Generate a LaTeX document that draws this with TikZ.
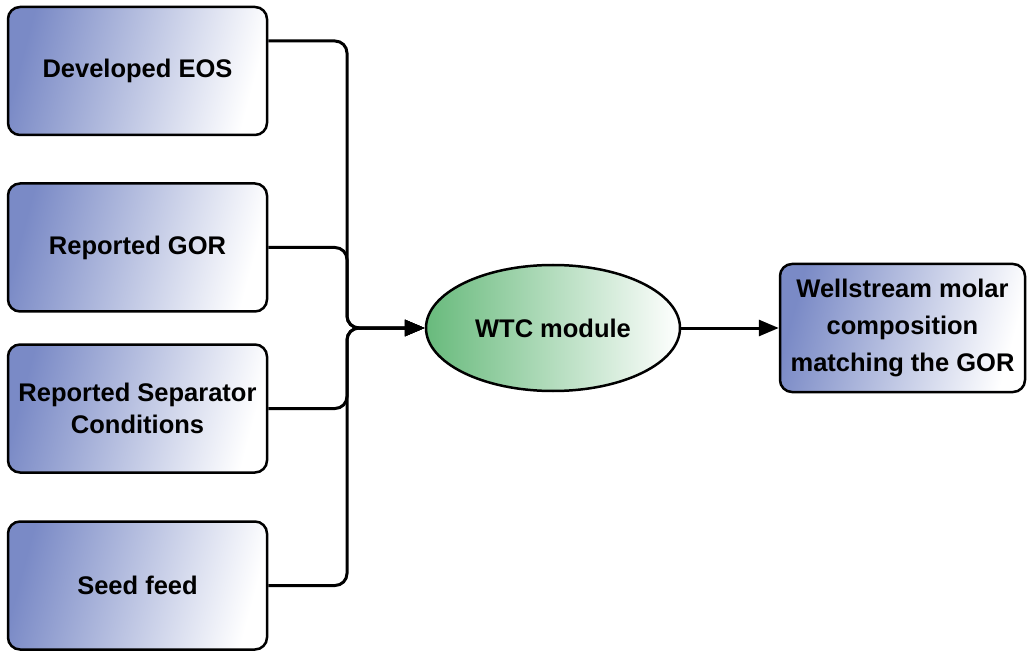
\documentclass[tikz,border=0pt]{standalone}
\usepackage{fontspec}
\setmainfont{Liberation Sans}
\usetikzlibrary{shapes.geometric,arrows.meta,calc}
\definecolor{boxblue}{RGB}{122,138,198}
\definecolor{ellgreen}{RGB}{104,186,124}
\tikzset{
  inbox/.style={draw=black, line width=2.5pt, rounded corners=12pt,
    minimum width=259pt, minimum height=128pt, left color=boxblue, right color=white,
    shading angle=75, align=center, font=\bfseries\fontsize{25.5}{32}\selectfont, inner sep=2pt},
  outbox/.style={draw=black, line width=2.5pt, rounded corners=12pt,
    minimum width=245pt, minimum height=128pt, left color=boxblue, right color=white,
    shading angle=75, align=center, font=\bfseries\fontsize{25.5}{37}\selectfont, inner sep=2pt},
  module/.style={ellipse, draw=black, line width=2.5pt, minimum width=254pt, minimum height=126pt,
    left color=ellgreen, right color=white, font=\bfseries\fontsize{25.5}{30}\selectfont},
  conn/.style={draw=black, line width=3pt, rounded corners=12pt},
  arr/.style={conn, -{Triangle[length=20pt,width=16pt]}}
}
\begin{document}
\begin{tikzpicture}[x=1pt,y=-1pt]
\useasboundingbox (0,0) rectangle (1028,652);
\node[inbox] (b1) at (137.5,71) {Developed EOS};
\node[inbox] (b2) at (137.5,247.5) {Reported GOR};
\node[inbox] (b3) at (137.5,408.5) {Reported Separator\\Conditions};
\node[inbox] (b4) at (137.5,585.5) {Seed feed};
\node[module] (wtc) at (553,328) {WTC module};
\node[outbox] (out) at (902.5,328) {Wellstream molar\\composition\\matching the GOR};
\coordinate (j) at (347,328);
\draw[arr] ($(b1.east)+(0,-30)$) -| (j) -- (wtc.west);
\draw[arr] (b2.east) -| (j) -- (wtc.west);
\draw[arr] (b3.east) -| (j) -- (wtc.west);
\draw[arr] (b4.east) -| (j) -- (wtc.west);
\draw[arr] (wtc.east) -- (out.west);
\end{tikzpicture}
\end{document}
